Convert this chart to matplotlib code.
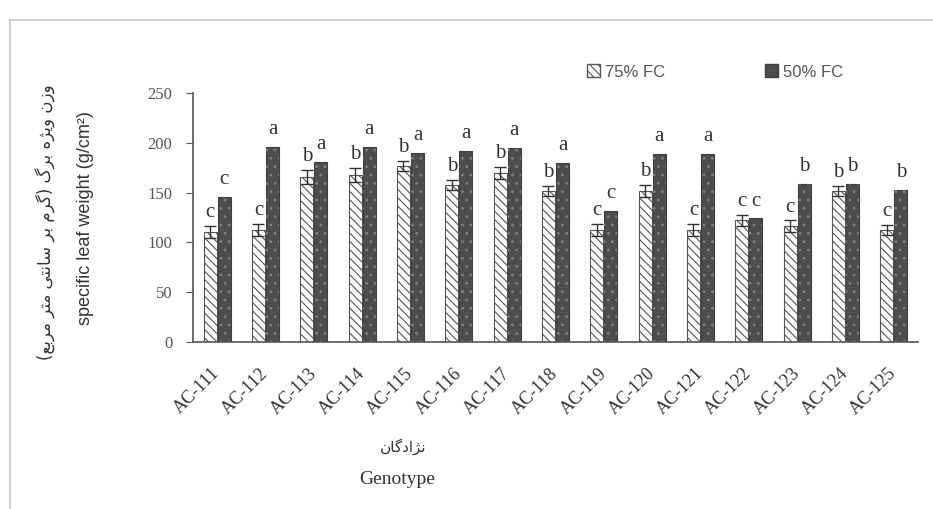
import numpy as np
import matplotlib
matplotlib.use('Agg')
import matplotlib.pyplot as plt
import matplotlib.transforms as mtransforms
from matplotlib.patches import Rectangle, Patch

# 데이터
genotypes = ['AC-111', 'AC-112', 'AC-113', 'AC-114', 'AC-115', 'AC-116', 'AC-117', 'AC-118',
             'AC-119', 'AC-120', 'AC-121', 'AC-122', 'AC-123', 'AC-124', 'AC-125']
fc75 = [110, 112, 166, 168, 177, 158, 170, 152, 112, 152, 112, 122, 116, 152, 112]
fc50 = [146, 196, 181, 196, 190, 192, 195, 180, 132, 189, 189, 124, 159, 159, 153]
err75 = [6, 6, 7, 7, 5, 5, 6, 5, 6, 6, 6, 6, 6, 5, 5]
letters75 = ['c', 'c', 'b', 'b', 'b', 'b', 'b', 'b', 'c', 'b', 'c', 'c', 'c', 'b', 'c']
letters50 = ['c', 'a', 'a', 'a', 'a', 'a', 'a', 'a', 'c', 'a', 'a', 'c', 'b', 'b', 'b']
legend_labels = ['75% FC', '50% FC']

fa_ylabel = 'وزن ویژه برگ (گرم بر سانتی متر مربع)'
en_ylabel = 'specific leaf weight (g/cm²)'
fa_xlabel = 'نژادگان'
en_xlabel = 'Genotype'

# 간단한 아랍/페르시아 문자 형태 변환 (iso, fin, ini, med)
forms = {
    'ا': ('\uFE8D', '\uFE8E', None, None),
    'د': ('\uFEA9', '\uFEAA', None, None),
    'ر': ('\uFEAD', '\uFEAE', None, None),
    'ز': ('\uFEAF', '\uFEB0', None, None),
    'ژ': ('\uFB8A', '\uFB8B', None, None),
    'و': ('\uFEED', '\uFEEE', None, None),
    'ب': ('\uFE8F', '\uFE90', '\uFE91', '\uFE92'),
    'ت': ('\uFE95', '\uFE96', '\uFE97', '\uFE98'),
    'س': ('\uFEB1', '\uFEB2', '\uFEB3', '\uFEB4'),
    'ع': ('\uFEC9', '\uFECA', '\uFECB', '\uFECC'),
    'م': ('\uFEE1', '\uFEE2', '\uFEE3', '\uFEE4'),
    'ن': ('\uFEE5', '\uFEE6', '\uFEE7', '\uFEE8'),
    'ه': ('\uFEE9', '\uFEEA', '\uFEEB', '\uFEEC'),
    'ی': ('\uFBFC', '\uFBFD', '\uFBFE', '\uFBFF'),
    'گ': ('\uFB92', '\uFB93', '\uFB94', '\uFB95'),
}


def shape_fa(text):
    out = []
    for i, ch in enumerate(text):
        if ch not in forms:
            out.append(ch)
            continue
        prev = text[i - 1] if i > 0 else ''
        nxt = text[i + 1] if i + 1 < len(text) else ''
        join_prev = prev in forms and forms[prev][2] is not None
        join_next = forms[ch][2] is not None and nxt in forms
        iso, fin, ini, med = forms[ch]
        if join_prev and join_next:
            out.append(med)
        elif join_prev:
            out.append(fin)
        elif join_next:
            out.append(ini)
        else:
            out.append(iso)
    vis = ''.join(out)[::-1]
    return vis.translate(str.maketrans('()', ')('))


plt.rcParams['font.family'] = ['Liberation Serif', 'DejaVu Sans']
plt.rcParams['hatch.linewidth'] = 0.8

fig = plt.figure(figsize=(9.33, 5.09), dpi=100)
ax = fig.add_axes([193 / 933, 1 - 342 / 509, 725 / 933, 249 / 509])

x = np.arange(len(genotypes))
w = 0.27
dark = '#3f3f3f'

ax.bar(x - w / 2 - 0.01, fc75, w, color='white', edgecolor='#555555', hatch='\\\\\\\\', linewidth=0.8)
ax.errorbar(x - w / 2 - 0.01, fc75, yerr=err75, fmt='none', ecolor='#333333', elinewidth=1, capsize=4, capthick=1)
ax.bar(x + w / 2 + 0.01, fc50, w, color='#4d4d4d', edgecolor=dark, linewidth=0.8)
ax.bar(x + w / 2 + 0.01, fc50, w, color='none', edgecolor='#808080', hatch='..', linewidth=0)

for i in range(len(genotypes)):
    ax.text(x[i] - w / 2 - 0.01, fc75[i] + err75[i] + 4, letters75[i], ha='center', va='bottom',
            fontsize=15, color='#333333')
    ax.text(x[i] + w / 2 + 0.01, fc50[i] + 8, letters50[i], ha='center', va='bottom',
            fontsize=15, color='#333333')

ax.set_xlim(-0.5, len(genotypes) - 0.5)
ax.set_ylim(0, 250)
ax.set_yticks(range(0, 251, 50))
ax.set_xticks(x)
ax.set_xticklabels([])
ax.tick_params(axis='x', length=0)
ax.tick_params(axis='y', length=5, direction='out', color='#555555', labelsize=12,
               labelcolor='#555555', pad=10)
for s in ['top', 'right']:
    ax.spines[s].set_visible(False)
for s in ['left', 'bottom']:
    ax.spines[s].set_color('#555555')
    ax.spines[s].set_linewidth(1.2)

# x 눈금 라벨 (45도 회전)
lab_trans = ax.get_xaxis_transform() + mtransforms.ScaledTranslation(-0.06, -0.23, fig.dpi_scale_trans)
for xi, g in zip(x, genotypes):
    ax.text(xi, 0, g, transform=lab_trans, rotation=45, rotation_mode='anchor', ha='right', va='top',
            fontsize=13, color='#333333')

# 범례
handles = [Patch(facecolor='white', edgecolor='#555555', hatch='\\\\\\\\'),
           Patch(facecolor='#4d4d4d', edgecolor=dark)]
fig.legend(handles, legend_labels, loc='center', bbox_to_anchor=(715 / 933, 1 - 72 / 509), ncol=2,
           frameon=False, handlelength=0.8, handleheight=0.8, handletextpad=0.3, columnspacing=6,
           prop={'family': 'Liberation Sans', 'size': 12}, labelcolor='#555555')

# 축 제목
fig.text(46 / 933, 1 - 222 / 509, shape_fa(fa_ylabel), rotation=90, ha='center', va='center',
         fontsize=12, color='#333333', family=['DejaVu Sans'])
fig.text(86 / 933, 1 - 218 / 509, en_ylabel, rotation=90, ha='center', va='center',
         fontsize=13, color='#333333', family=['Liberation Sans', 'DejaVu Sans'])
fig.text(403 / 933, 1 - 447 / 509, shape_fa(fa_xlabel), ha='center', va='center',
         fontsize=11, color='#333333', family=['DejaVu Sans'])
fig.text(397 / 933, 1 - 479 / 509, en_xlabel, ha='center', va='center', fontsize=14, color='#333333')

# 바깥 테두리
fig.patches.append(Rectangle((10 / 933, -0.01), 1.0, 1 - 20 / 509 + 0.01, transform=fig.transFigure,
                             fill=False, edgecolor='#d0d0d0', linewidth=1.5))

fig.savefig('out.png', dpi=100)
